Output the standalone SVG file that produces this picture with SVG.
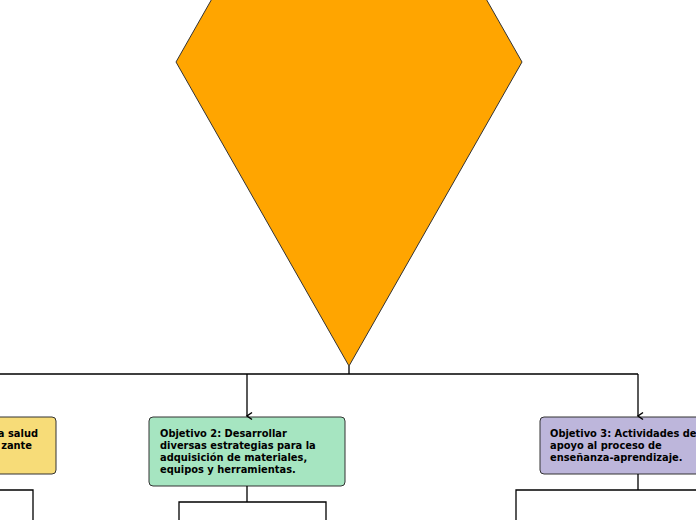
<svg xmlns="http://www.w3.org/2000/svg" width="696" height="520" viewBox="0 0 696 520">
<style>
.t{font-family:"DejaVu Sans",Verdana,sans-serif;font-weight:bold;font-size:9.9px;fill:#000}
.c{fill:none;stroke:#000;stroke-width:1.3}
.b{stroke:#333;stroke-width:1}
</style>
<defs>
<marker id="ah" markerWidth="10" markerHeight="10" refX="5" refY="8" orient="auto-start-reverse" markerUnits="userSpaceOnUse" viewBox="0 0 10 10">
<path d="M1.5,3 L5,8 L8.5,3" fill="none" stroke="#000" stroke-width="1.5"/>
</marker>
</defs>
<rect width="696" height="520" fill="#fff"/>
<g id="main">
<polygon points="349,-242 522,62 349,366 176,62" fill="#ffa500" stroke="#333" stroke-width="1"/>
</g>
<g id="obj1">
<rect class="b" x="-20" y="417" width="76" height="57" rx="4" fill="#f7dc78"/>
<text class="t" x="38" y="437" text-anchor="end">a salud</text>
<text class="t" x="32" y="449" text-anchor="end">zante</text>
</g>
<g id="obj2">
<rect class="b" x="149" y="417" width="196" height="69" rx="4" fill="#a6e5c1"/>
<text class="t" x="160" y="437">Objetivo 2: Desarrollar</text>
<text class="t" x="160" y="449">diversas estrategias para la</text>
<text class="t" x="160" y="461">adquisición de materiales,</text>
<text class="t" x="160" y="473">equipos y herramientas.</text>
</g>
<g id="obj3">
<rect class="b" x="540" y="417" width="170" height="57" rx="4" fill="#bdb6db"/>
<text class="t" x="550" y="437">Objetivo 3: Actividades de</text>
<text class="t" x="550" y="449">apoyo al proceso de</text>
<text class="t" x="550" y="461">enseñanza-aprendizaje.</text>
</g>
<g id="connectors">
<path class="c" d="M349,366 V374 M0,374 H638"/>
<path class="c" d="M247,374 V416" marker-end="url(#ah)"/>
<path class="c" d="M638,374 V416" marker-end="url(#ah)"/>
<path class="c" d="M247,486 V502 M179,520 V502 H326 V520"/>
<path class="c" d="M0,490 H33 V520"/>
<path class="c" d="M638,474 V490 M516,520 V490 H700"/>
</g>
</svg>
